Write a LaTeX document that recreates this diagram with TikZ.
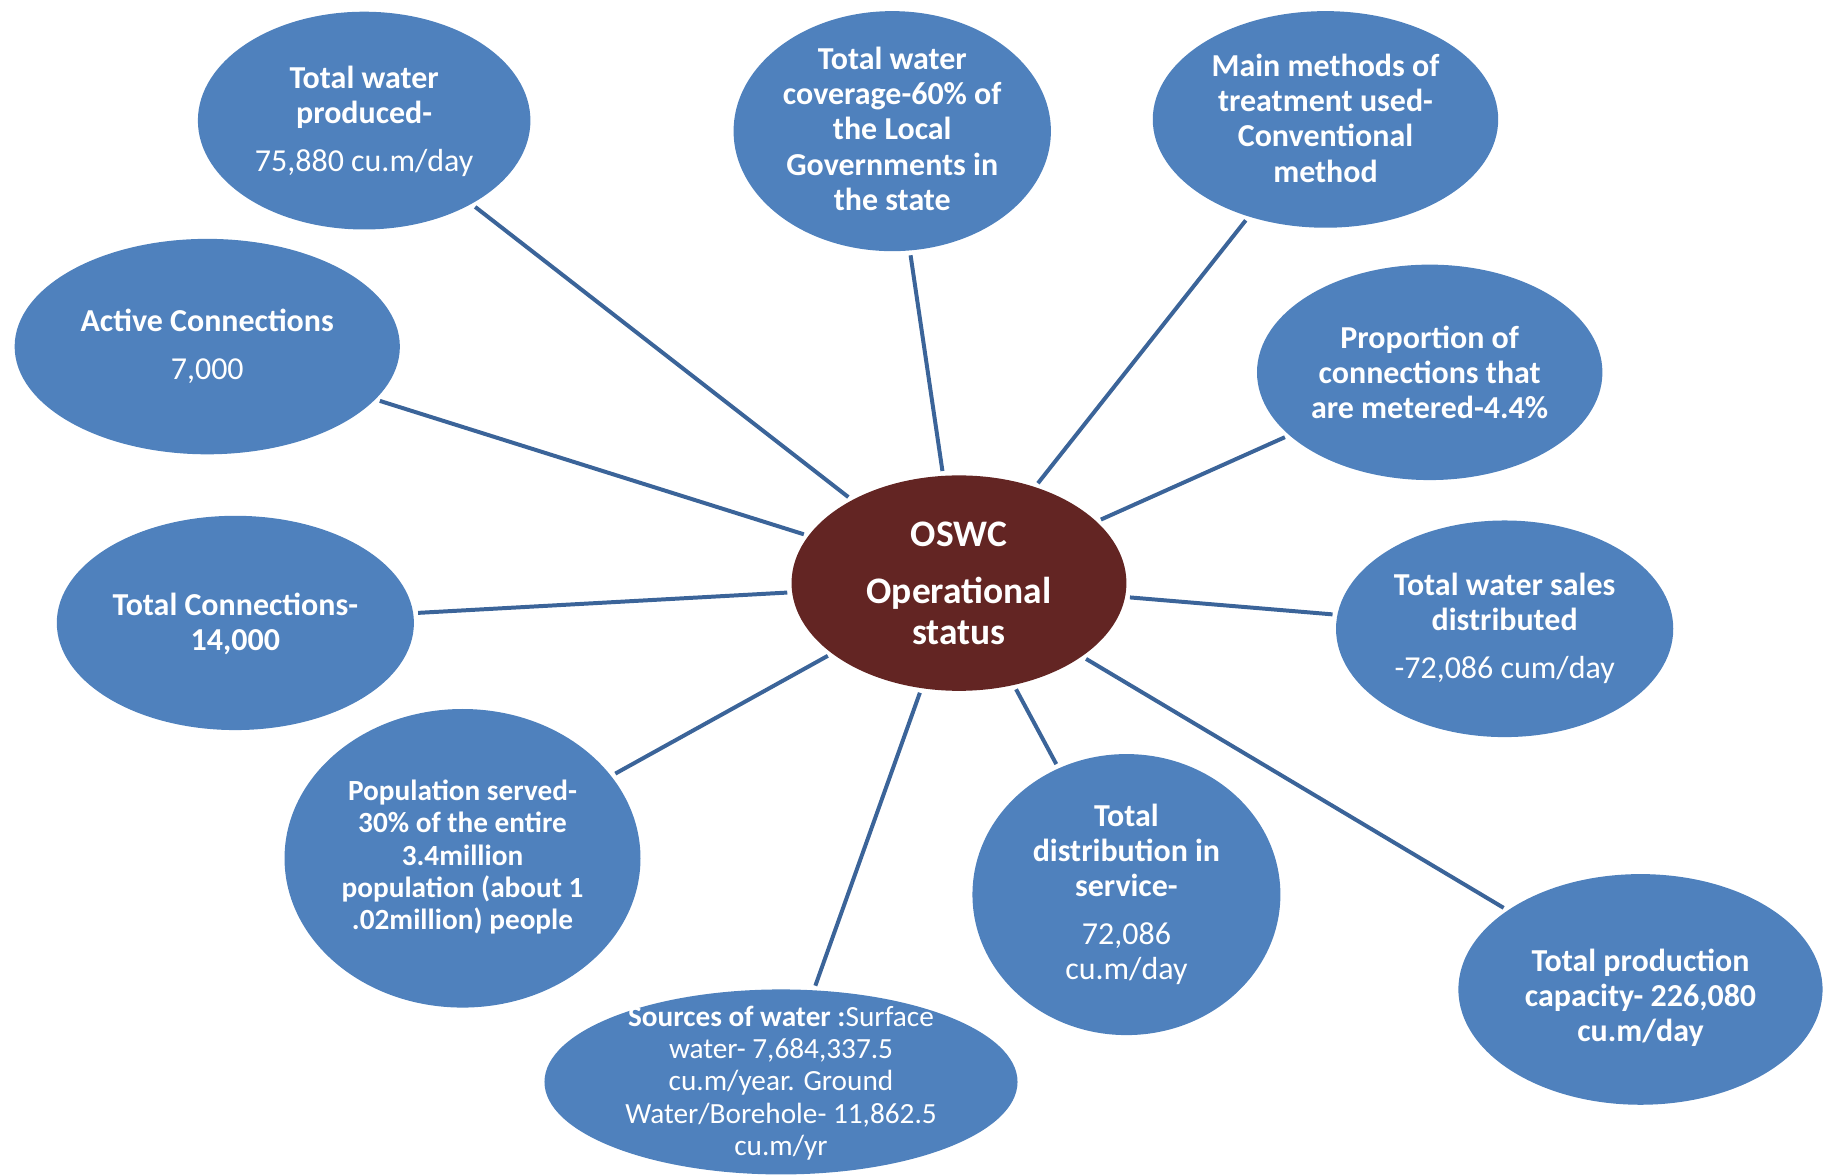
\documentclass[tikz,border=0pt]{standalone}
\usepackage{fontspec}
\setmainfont{Carlito}
\usepackage{tikz}
\usetikzlibrary{shapes.geometric}

\definecolor{bubbleblue}{HTML}{4F81BD}
\definecolor{linkblue}{HTML}{3B6499}
\definecolor{coredark}{HTML}{632523}

\begin{document}
\begin{tikzpicture}[x=1pt, y=-1pt,
    bubble/.style={ellipse, fill=bubbleblue, inner sep=0pt},
    txt/.style={text=white, align=center, inner sep=0pt, font=\fontsize{27.3}{30}\selectfont},
    smalltxt/.style={txt, font=\fontsize{25}{27.5}\selectfont},
    link/.style={draw=linkblue, line width=3.4pt, shorten <=4pt, shorten >=4pt}]

    \useasboundingbox (0,0) rectangle (1568,1003);

    % Centre
    \node[ellipse, fill=coredark, inner sep=0pt, minimum width=286pt, minimum height=184pt] (core) at (819,498) {};
    \node[txt, font=\bfseries\fontsize{32}{35}\selectfont] (core-t) at (819,498) {OSWC\\[14pt]Operational\\status};

    % Top row
    \node[bubble, minimum width=284pt, minimum height=186pt] (produced) at (311,103) {};
    \node[txt] (produced-t) at (311,103.5) {\textbf{Total water}\\\textbf{produced-}\\[11pt]75,880 cu.m/day};

    \node[bubble, minimum width=271pt, minimum height=205pt] (coverage) at (762,112) {};
    \node[txt] (coverage-t) at (762,110) {\textbf{Total water}\\\textbf{coverage-60\% of}\\\textbf{the Local}\\\textbf{Governments in}\\\textbf{the state}};

    \node[bubble, minimum width=295pt, minimum height=185pt] (methods) at (1132,102) {};
    \node[txt] (methods-t) at (1132,101) {\textbf{Main methods of}\\\textbf{treatment used-}\\\textbf{Conventional}\\\textbf{method}};

    % Right side
    \node[bubble, minimum width=295pt, minimum height=184pt] (metered) at (1221,318) {};
    \node[txt] (metered-t) at (1221,318) {\textbf{Proportion of}\\\textbf{connections that}\\\textbf{are metered-4.4\%}};

    \node[bubble, minimum width=288pt, minimum height=185pt] (sales) at (1285,537) {};
    \node[txt] (sales-t) at (1285,537) {\textbf{Total water sales}\\\textbf{distributed}\\[11pt]-72,086 cum/day};

    \node[bubble, minimum width=311pt, minimum height=197pt] (capacity) at (1401,845) {};
    \node[txt] (capacity-t) at (1401,852) {\textbf{Total production}\\\textbf{capacity- 226,080}\\\textbf{cu.m/day}};

    % Bottom
    \node[bubble, minimum width=263pt, minimum height=240pt] (distrib) at (962,764) {};
    \node[txt] (distrib-t) at (962,764) {\textbf{Total}\\\textbf{distribution in}\\\textbf{service-}\\[11pt]72,086\\cu.m/day};

    \node[bubble, minimum width=404pt, minimum height=158pt] (sources) at (667,924) {};
    \node[smalltxt] (sources-t) at (667,925) {\textbf{Sources of water :}Surface\\water- 7,684,337.5\\cu.m/year. Ground\\Water/Borehole- 11,862.5\\cu.m/yr};

    \node[bubble, minimum width=304pt, minimum height=255pt] (population) at (395,733) {};
    \node[smalltxt] (population-t) at (395,732) {\textbf{Population served-}\\\textbf{30\% of the entire}\\\textbf{3.4million}\\\textbf{population (about 1}\\\textbf{.02million) people}};

    % Left side
    \node[bubble, minimum width=305pt, minimum height=183pt] (totalconn) at (201,532) {};
    \node[txt] (totalconn-t) at (201,533) {\textbf{Total Connections-}\\\textbf{14,000}};

    \node[bubble, minimum width=329pt, minimum height=184pt] (active) at (177,296) {};
    \node[txt] (active-t) at (177,296) {\textbf{Active Connections}\\[11pt]7,000};

    % Spokes
    \foreach \n in {produced, coverage, methods, metered, sales, capacity, distrib, sources, population, totalconn, active}
        \draw[link] (\n) -- (core);
\end{tikzpicture}
\end{document}
